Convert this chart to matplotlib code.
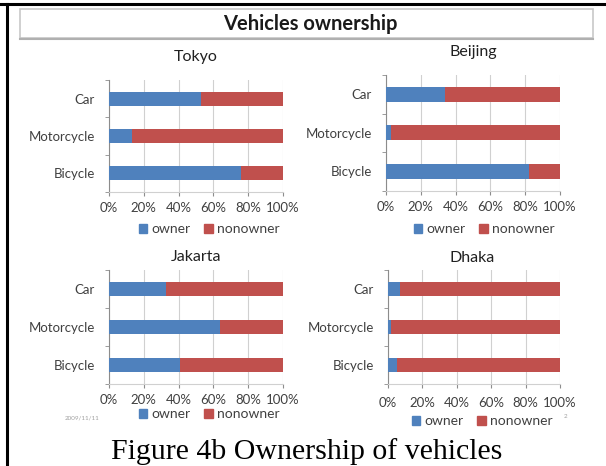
import matplotlib
matplotlib.use("Agg")
import matplotlib.pyplot as plt
from matplotlib.patches import Rectangle, Patch
from matplotlib.lines import Line2D

# ---- data ----
categories = ["Bicycle", "Motorcycle", "Car"]
cities = ["Tokyo", "Beijing", "Jakarta", "Dhaka"]
owner_tokyo = [76, 13, 53]
owner_beijing = [82, 3, 34]
owner_jakarta = [41, 64, 33]
owner_dhaka = [5, 2, 7]
owners = [owner_tokyo, owner_beijing, owner_jakarta, owner_dhaka]
xticks = [0, 20, 40, 60, 80, 100]
xtick_labels = ["0%", "20%", "40%", "60%", "80%", "100%"]
series = ["owner", "nonowner"]

BLUE = "#4F81BD"
RED = "#C0504D"
TXT = "#404040"
GRID = "#D0D0D0"
AX = "#8C8C8C"

W, H = 606, 466
fig = plt.figure(figsize=(W / 100, H / 100), dpi=100)
FONT = "Lato"

def px_axes(x0, y0, x1, y1):
    return fig.add_axes([x0 / W, 1 - y1 / H, (x1 - x0) / W, (y1 - y0) / H])

# axes boxes in pixel coords (left, top, right, bottom)
boxes = [
    (109, 80, 283, 192),
    (386, 75, 560, 190.5),
    (109, 270, 283, 384),
    (388, 270, 560, 384),
]
title_pos = [(196, 57), (473, 52), (196, 257), (472, 258)]
legend_pos = [(209, 229), (484, 229), (209, 414), (482, 421)]
tick_pad = [4.0, 4.5, 4.0, 6.5]

for i, city in enumerate(cities):
    x0, y0, x1, y1 = boxes[i]
    ax = px_axes(x0, y0, x1, y1)
    own = owners[i]
    non = [100 - v for v in own]
    ypos = list(range(len(categories)))
    ax.barh(ypos, own, height=0.38, color=BLUE, zorder=3)
    ax.barh(ypos, non, left=own, height=0.38, color=RED, zorder=3)
    ax.set_xlim(0, 100)
    ax.set_ylim(-0.5, 2.5)
    ax.set_xticks(xticks)
    ax.set_xticklabels(xtick_labels)
    ax.set_yticks(ypos)
    ax.set_yticklabels(categories)
    ax.set_yticks([-0.5, 0.5, 1.5, 2.5], minor=True)
    ax.tick_params(axis="y", which="major", length=0, pad=10, labelsize=9.5, labelcolor=TXT)
    ax.tick_params(axis="y", which="minor", length=3, color=AX, direction="out")
    ax.tick_params(axis="x", which="major", length=3, color=AX, direction="out",
                   labelsize=9.5, labelcolor=TXT, pad=tick_pad[i])
    ax.grid(axis="x", color=GRID, linewidth=0.8, zorder=0)
    for s in ["top", "right"]:
        ax.spines[s].set_visible(False)
    for s in ["left", "bottom"]:
        ax.spines[s].set_color(AX)
        ax.spines[s].set_linewidth(0.8)
    ax.spines["bottom"].set_color(GRID)
    ax.set_facecolor("none")
    tx, ty = title_pos[i]
    fig.text(tx / W, 1 - ty / H, city, ha="center", va="center",
             fontsize=11.5, color="#202020", family=FONT)
    lx, ly = legend_pos[i]
    handles = [Patch(color=BLUE), Patch(color=RED)]
    fig.legend(handles, series, loc="center", bbox_to_anchor=(lx / W, 1 - ly / H),
               ncol=2, frameon=False, handlelength=0.6, handleheight=0.6,
               handletextpad=0.3, columnspacing=1.0, borderpad=0, labelcolor=TXT,
               prop={"family": FONT, "size": 10})
    for lab in ax.get_xticklabels() + ax.get_yticklabels():
        lab.set_family(FONT)

# title box
fig.patches.append(Rectangle((20 / W, 1 - 38 / H), (593 - 20) / W, (38 - 9) / H,
                             transform=fig.transFigure, facecolor="white",
                             edgecolor="#C8C8C8", linewidth=1.2, zorder=1))
fig.add_artist(Line2D([20 / W, 593 / W], [1 - 39 / H, 1 - 39 / H], transform=fig.transFigure,
                      color="#B0B0B0", linewidth=1.5))
fig.text(310 / W, 1 - 24 / H, "Vehicles ownership", ha="center", va="center",
         fontsize=14.5, fontweight="bold", color="#1a1a1a", family=FONT)

# frame lines
fig.add_artist(Line2D([0, 1], [1 - 4 / H, 1 - 4 / H], transform=fig.transFigure,
                      color="black", linewidth=2.2))
fig.add_artist(Line2D([7 / W, 7 / W], [0, 1 - 4 / H], transform=fig.transFigure,
                      color="black", linewidth=2.2))

# small texts
fig.text(82 / W, 1 - 418 / H, "2009/11/11", ha="center", va="center",
         fontsize=4.5, color="#A0A0A0", family=FONT)
fig.text(566 / W, 1 - 416 / H, "2", ha="center", va="center",
         fontsize=4.5, color="#A0A0A0", family=FONT)

# caption
fig.text(307 / W, 1 - 459 / H, "Figure 4b Ownership of vehicles", ha="center",
         va="baseline", fontsize=21.5, color="black", family="Liberation Serif")

fig.savefig("out.png", dpi=100)
